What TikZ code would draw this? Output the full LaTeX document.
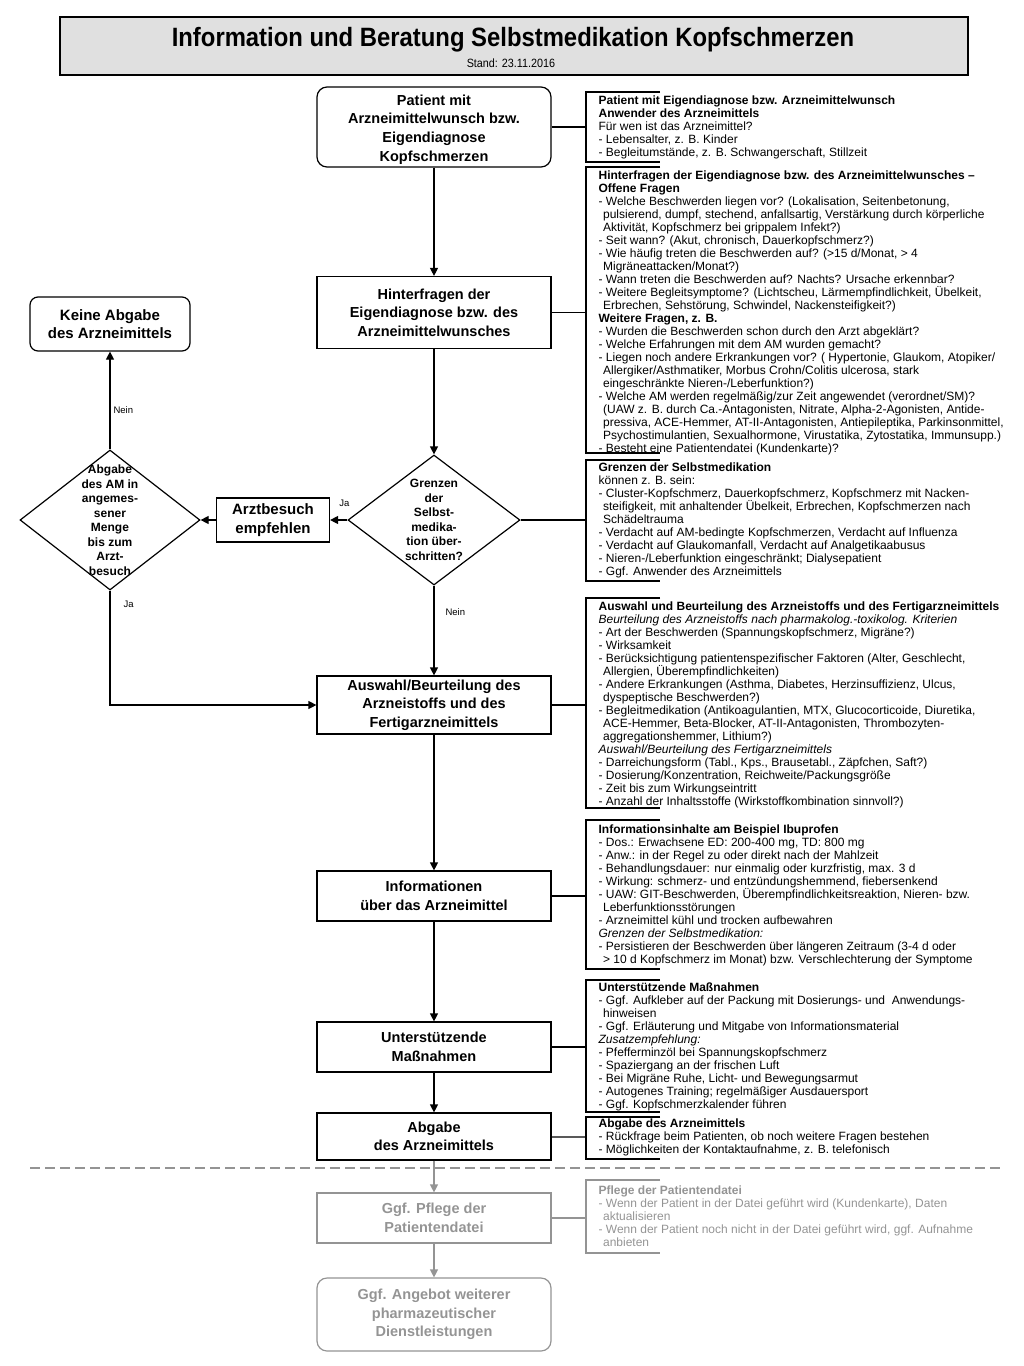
\documentclass[tikz,border=0pt]{standalone}
\usepackage{fontspec}
\setmainfont{Liberation Sans}
\usetikzlibrary{shapes.geometric, arrows.meta}
\definecolor{faded}{gray}{0.58}
\newcommand{\indnt}{\hspace*{4.5pt}}

\begin{document}
\begin{tikzpicture}[->,very thick,x=1pt,y=-1pt,
    >={Triangle[length=8pt,width=8pt]},
    box/.style={draw,rectangle,minimum width=234pt,align=center,inner sep=2pt,
      font=\fontsize{14.5}{18.5}\selectfont\bfseries},
    rbox/.style={box,rounded corners=10pt},
    dec/.style={draw,diamond,inner sep=0pt},
    dtext/.style={align=center,font=\fontsize{12}{14.5}\selectfont\bfseries},
    note/.style={anchor=north west,align=left,inner sep=0pt,
      font=\fontsize{12}{13}\selectfont,execute at begin node=\rule{0pt}{11pt}},
    lbl/.style={font=\fontsize{9.5}{11}\selectfont,inner sep=1pt},
    faint/.style={draw=faded,text=faded}]
      \useasboundingbox (0,0) rectangle (1024,1366);

      % title
      \node[draw,fill=black!12,line width=1.5pt,minimum width=908pt,minimum height=58pt] (0) at (514,46) {};
      \node[font=\fontsize{26.5}{30}\selectfont\bfseries] (t) at (513,39.5) {\scalebox{0.9}[1]{Information und Beratung Selbstmedikation Kopfschmerzen}};
      \node[font=\fontsize{12}{14}\selectfont] (s) at (511,63) {\scalebox{0.9}[1]{Stand: 23.11.2016}};

      % flow chart
      \node[rbox,minimum height=80pt] (1)  at (434,127) {\rule{0pt}{15.5pt}Patient mit\\Arzneimittelwunsch bzw.\\Eigendiagnose\\Kopfschmerzen};
      \node[box,minimum height=72pt]  (2)  at (434,312.5) {Hinterfragen der\\Eigendiagnose bzw. des\\Arzneimittelwunsches};
      \node[dec,minimum width=172pt,minimum height=130pt,
        label={[dtext]center:Grenzen\\der\\Selbst-\\medika-\\tion über-\\schritten?}] (3) at (434,520) {};
      \node[box,minimum width=113pt,minimum height=44pt,font=\fontsize{15}{18.5}\selectfont\bfseries] (4) at (273,520) {Arztbesuch\\empfehlen};
      \node[dec,minimum width=180pt,minimum height=140pt,
        label={[dtext]center:Abgabe\\des AM in\\angemes-\\sener\\Menge\\bis zum\\Arzt-\\besuch}] (5) at (110,520) {};
      \node[rbox,rounded corners=8pt,minimum width=160pt,minimum height=54pt,font=\fontsize{15}{18.5}\selectfont\bfseries] (6) at (110,324) {Keine Abgabe\\des Arzneimittels};
      \node[box,minimum height=58pt]  (7)  at (434,705) {Auswahl/Beurteilung des\\Arzneistoffs und des\\Fertigarzneimittels};
      \node[box,minimum height=50pt]  (8)  at (434,896) {Informationen\\über das Arzneimittel};
      \node[box,minimum height=50pt]  (9)  at (434,1047) {Unterstützende\\Maßnahmen};
      \node[box,minimum height=47pt]  (10) at (434,1136.5) {Abgabe\\des Arzneimittels};
      \node[box,faint,minimum height=50pt]  (11) at (434,1218) {Ggf. Pflege der\\Patientendatei};
      \node[rbox,faint,minimum height=73pt] (12) at (434,1314.5) {Ggf. Angebot weiterer\\pharmazeutischer\\Dienstleistungen};

      % brackets of the notes
      \foreach \n/\y in {n1/127, n2/312.5, n3/520, n4/705, n5/896, n6/1047, n7/1137, n8/1218}
        \coordinate (\n) at (586,\y);
      \foreach \t/\b in {92/162, 167/453, 460/581, 598/808, 820/969, 980/1112, 1117/1159}
        \draw[-] (660,\t) -| (586,\b) -- (660,\b);
      \draw[-,faded] (660,1180) -| (586,1253) -- (660,1253);

      \path
        (1) edge (2)
            edge[-] (n1)
        (2) edge (3)
            edge[-] (n2)
        (3) edge node[lbl,at start,above=12pt,xshift=-3pt] {Ja} (4)
            edge node[lbl,pos=0.29,right=10pt] {Nein} (7)
            edge[-] (n3)
        (4) edge (5)
        (5) edge node[lbl,pos=0.4,right=2pt] {Nein} (6)
        (7) edge (8)
            edge[-] (n4)
        (8) edge (9)
            edge[-] (n5)
        (9) edge (10)
            edge[-] (n6)
        (10) edge[-] (n7)
        (10) edge[faded] (11)
        (11) edge[faded] (12)
             edge[-,faded] (n8);
      \draw (5) |- node[lbl,pos=0.06,right=12pt] {Ja} (7);

      % separation line
      \draw[-,faded,line width=1.2pt,dash pattern=on 10pt off 5pt] (30,1168) -- (1000,1168);

      % notes
      \node[note] (m1) at (598,95) {\textbf{Patient mit Eigendiagnose bzw. Arzneimittelwunsch}\\
        \textbf{Anwender des Arzneimittels}\\
        Für wen ist das Arzneimittel?\\
        - Lebensalter, z. B. Kinder\\
        - Begleitumstände, z. B. Schwangerschaft, Stillzeit};
      \node[note] (m2) at (598,170.5) {\textbf{Hinterfragen der Eigendiagnose bzw. des Arzneimittelwunsches –}\\
        \textbf{Offene Fragen}\\
        - Welche Beschwerden liegen vor? (Lokalisation, Seitenbetonung,\\
        \indnt pulsierend, dumpf, stechend, anfallsartig, Verstärkung durch körperliche\\
        \indnt Aktivität, Kopfschmerz bei grippalem Infekt?)\\
        - Seit wann? (Akut, chronisch, Dauerkopfschmerz?)\\
        - Wie häufig treten die Beschwerden auf? (>15 d/Monat, > 4\\
        \indnt Migräneattacken/Monat?)\\
        - Wann treten die Beschwerden auf? Nachts? Ursache erkennbar?\\
        - Weitere Begleitsymptome? (Lichtscheu, Lärmempfindlichkeit, Übelkeit,\\
        \indnt Erbrechen, Sehstörung, Schwindel, Nackensteifigkeit?)\\
        \textbf{Weitere Fragen, z. B.}\\
        - Wurden die Beschwerden schon durch den Arzt abgeklärt?\\
        - Welche Erfahrungen mit dem AM wurden gemacht?\\
        - Liegen noch andere Erkrankungen vor? ( Hypertonie, Glaukom, Atopiker/\\
        \indnt Allergiker/Asthmatiker, Morbus Crohn/Colitis ulcerosa, stark\\
        \indnt eingeschränkte Nieren-/Leberfunktion?)\\
        - Welche AM werden regelmäßig/zur Zeit angewendet (verordnet/SM)?\\
        \indnt (UAW z. B. durch Ca.-Antagonisten, Nitrate, Alpha-2-Agonisten, Antide-\\
        \indnt pressiva, ACE-Hemmer, AT-II-Antagonisten, Antiepileptika, Parkinsonmittel,\\
        \indnt Psychostimulantien, Sexualhormone, Virustatika, Zytostatika, Immunsupp.)\\
        - Besteht eine Patientendatei (Kundenkarte)?};
      \node[note] (m3) at (598,462) {\textbf{Grenzen der Selbstmedikation}\\
        können z. B. sein:\\
        - Cluster-Kopfschmerz, Dauerkopfschmerz, Kopfschmerz mit Nacken-\\
        \indnt steifigkeit, mit anhaltender Übelkeit, Erbrechen, Kopfschmerzen nach\\
        \indnt Schädeltrauma\\
        - Verdacht auf AM-bedingte Kopfschmerzen, Verdacht auf Influenza\\
        - Verdacht auf Glaukomanfall, Verdacht auf Analgetikaabusus\\
        - Nieren-/Leberfunktion eingeschränkt; Dialysepatient\\
        - Ggf. Anwender des Arzneimittels};
      \node[note] (m4) at (598,601) {\textbf{Auswahl und Beurteilung des Arzneistoffs und des Fertigarzneimittels}\\
        \textit{Beurteilung des Arzneistoffs nach pharmakolog.-toxikolog. Kriterien}\\
        - Art der Beschwerden (Spannungskopfschmerz, Migräne?)\\
        - Wirksamkeit\\
        - Berücksichtigung patientenspezifischer Faktoren (Alter, Geschlecht,\\
        \indnt Allergien, Überempfindlichkeiten)\\
        - Andere Erkrankungen (Asthma, Diabetes, Herzinsuffizienz, Ulcus,\\
        \indnt dyspeptische Beschwerden?)\\
        - Begleitmedikation (Antikoagulantien, MTX, Glucocorticoide, Diuretika,\\
        \indnt ACE-Hemmer, Beta-Blocker, AT-II-Antagonisten, Thrombozyten-\\
        \indnt aggregationshemmer, Lithium?)\\
        \textit{Auswahl/Beurteilung des Fertigarzneimittels}\\
        - Darreichungsform (Tabl., Kps., Brausetabl., Zäpfchen, Saft?)\\
        - Dosierung/Konzentration, Reichweite/Packungsgröße\\
        - Zeit bis zum Wirkungseintritt\\
        - Anzahl der Inhaltsstoffe (Wirkstoffkombination sinnvoll?)};
      \node[note] (m5) at (598,824.5) {\textbf{Informationsinhalte am Beispiel Ibuprofen}\\
        - Dos.: Erwachsene ED: 200-400 mg, TD: 800 mg\\
        - Anw.: in der Regel zu oder direkt nach der Mahlzeit\\
        - Behandlungsdauer: nur einmalig oder kurzfristig, max. 3 d\\
        - Wirkung: schmerz- und entzündungshemmend, fiebersenkend\\
        - UAW: GIT-Beschwerden, Überempfindlichkeitsreaktion, Nieren- bzw.\\
        \indnt Leberfunktionsstörungen\\
        - Arzneimittel kühl und trocken aufbewahren\\
        \textit{Grenzen der Selbstmedikation:}\\
        - Persistieren der Beschwerden über längeren Zeitraum (3-4 d oder\\
        \indnt > 10 d Kopfschmerz im Monat) bzw. Verschlechterung der Symptome};
      \node[note] (m6) at (598,982.5) {\textbf{Unterstützende Maßnahmen}\\
        - Ggf. Aufkleber auf der Packung mit Dosierungs- und \ Anwendungs-\\
        \indnt hinweisen\\
        - Ggf. Erläuterung und Mitgabe von Informationsmaterial\\
        \textit{Zusatzempfehlung:}\\
        - Pfefferminzöl bei Spannungskopfschmerz\\
        - Spaziergang an der frischen Luft\\
        - Bei Migräne Ruhe, Licht- und Bewegungsarmut\\
        - Autogenes Training; regelmäßiger Ausdauersport\\
        - Ggf. Kopfschmerzkalender führen};
      \node[note] (m7) at (598,1118) {\textbf{Abgabe des Arzneimittels}\\
        - Rückfrage beim Patienten, ob noch weitere Fragen bestehen\\
        - Möglichkeiten der Kontaktaufnahme, z. B. telefonisch};
      \node[note,text=faded] (m8) at (598,1185) {\textbf{Pflege der Patientendatei}\\
        - Wenn der Patient in der Datei geführt wird (Kundenkarte), Daten\\
        \indnt aktualisieren\\
        - Wenn der Patient noch nicht in der Datei geführt wird, ggf. Aufnahme\\
        \indnt anbieten};
    \end{tikzpicture}
\end{document}
